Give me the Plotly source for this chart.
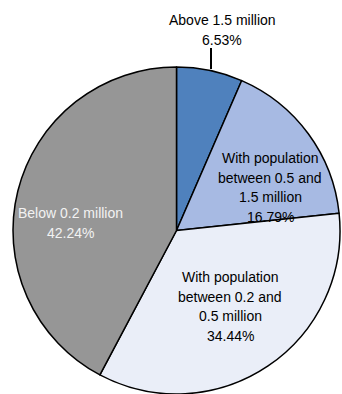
import plotly.graph_objects as go

# Data
labels = ["Above 1.5 million",
          "With population<br>between 0.5 and<br>1.5 million",
          "With population<br>between 0.2 and<br>0.5 million",
          "Below 0.2 million"]
shares = [6.53, 16.79, 34.44, 42.24]
colors = ["#4F81BD", "#A7BAE3", "#EAEEF8", "#969696"]
text_colors = ["#000000", "#000000", "#000000", "#F2F2F2"]

# label first-line positions (pixels from top-left), layout only
label_pos = [(222, 20), (270, 158), (230, 277), (70, 213)]
LINE_STEP = 19.7

W, H = 342, 394

fig = go.Figure(go.Pie(
    labels=labels,
    values=shares,
    sort=False,
    direction="clockwise",
    rotation=0,
    marker=dict(colors=colors, line=dict(color="#000000", width=1.5)),
    textinfo="none",
    hoverinfo="label+percent",
    showlegend=False,
    domain=dict(x=[11 / W, 1], y=[0, 1 - 67 / H]),
))

annotations = []
for lab, val, (px, py), tc in zip(labels, shares, label_pos, text_colors):
    lines = lab.split("<br>") + [f"{val:.2f}%"]
    for i, ln in enumerate(lines):
        annotations.append(dict(
            x=px / W, y=1 - (py + i * LINE_STEP) / H, xref="paper", yref="paper",
            text=ln, showarrow=False,
            font=dict(family="Liberation Sans, Arial, sans-serif", size=14, color=tc),
            align="center", xanchor="center", yanchor="middle",
        ))

fig.update_layout(
    width=W, height=H,
    margin=dict(l=0, r=0, t=0, b=0),
    paper_bgcolor="white",
    plot_bgcolor="white",
    annotations=annotations,
    shapes=[dict(type="line", xref="paper", yref="paper",
                 x0=211 / W, x1=211 / W, y0=1 - 48 / H, y1=1 - 69 / H,
                 line=dict(color="black", width=2))],
)

fig.write_html("out.html")
